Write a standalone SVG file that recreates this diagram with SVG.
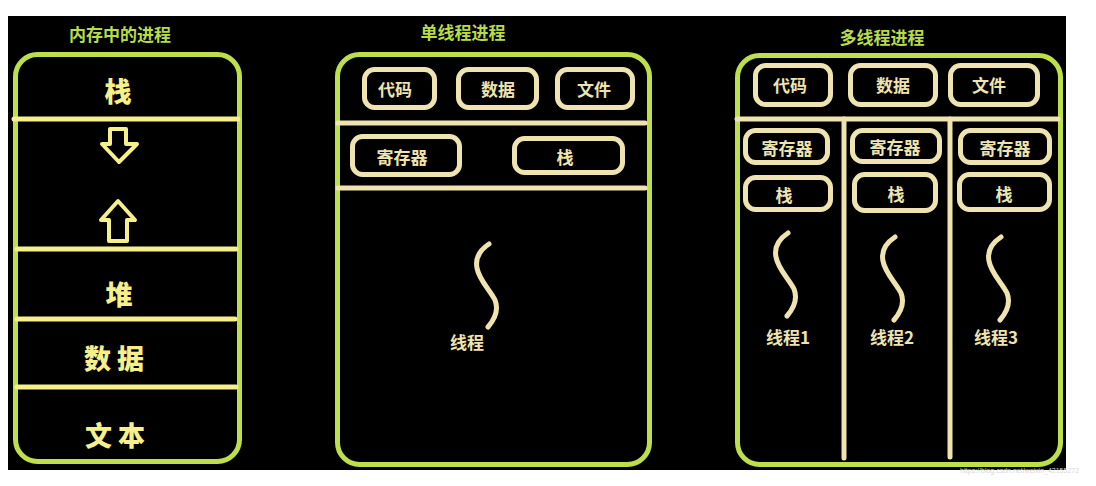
<svg xmlns="http://www.w3.org/2000/svg" xmlns:xlink="http://www.w3.org/1999/xlink" width="1096" height="486" viewBox="0 0 1096 486">
<style>
.frame{fill:none;stroke:#bde04a;stroke-width:5}
.box{fill:none;stroke:#efe4b0;stroke-width:5}
.yl{stroke:#f5f08c;stroke-width:5;stroke-linecap:round}
.bl{stroke:#efe4b0;stroke-width:5;stroke-linecap:round}
.arrow{fill:none;stroke:#f5f08c;stroke-width:4;stroke-linejoin:round}
.thread{fill:none;stroke:#efe4b0;stroke-width:5;stroke-linecap:round}
.title{font-family:"Noto Sans CJK SC","Noto Sans",sans-serif;font-weight:bold;font-size:17px;fill:#b8dc48;text-anchor:middle;dominant-baseline:central}
.big{font-family:"Noto Sans CJK SC","Noto Sans",sans-serif;font-weight:900;font-size:27px;fill:#f5f08c;text-anchor:middle;dominant-baseline:central}
.lbl{font-family:"Noto Sans CJK SC","Noto Sans",sans-serif;font-weight:bold;font-size:17px;fill:#efe4b0;text-anchor:middle;dominant-baseline:central}
.wm{font-family:"Liberation Sans",sans-serif;font-size:7px;fill:#d8d8d8}
</style>
<defs>
<path id="s" d="M489,244 C480,250 475,258 477,268 C479,280 490,290 495,300 C499,310 494,320 488,327"/>
</defs>
<rect x="0" y="0" width="1096" height="486" fill="#ffffff"/>
<rect x="8" y="16" width="1058" height="454" fill="#000000"/>

<g id="memory-process">
<text class="title" x="120" y="33">内存中的进程</text>
<rect class="frame" x="15.5" y="54.5" width="224" height="407" rx="22"/>
<line class="yl" x1="14" y1="119" x2="238" y2="119"/>
<line class="yl" x1="17" y1="249" x2="236" y2="249"/>
<line class="yl" x1="17" y1="319" x2="235" y2="319"/>
<line class="yl" x1="17" y1="387" x2="236" y2="387"/>
<text class="big" x="118" y="90">栈</text>
<path class="arrow" d="M110,129 H126 V144 H137 L119,162 L102,144 H110 Z"/>
<path class="arrow" d="M118,201 L135,220 H127 V241 H109 V220 H101 Z"/>
<text class="big" x="119" y="293">堆</text>
<text class="big" x="114" y="357">数 据</text>
<text class="big" x="115" y="434">文 本</text>
</g>

<g id="single-thread-process">
<text class="title" x="463" y="31">单线程进程</text>
<rect class="frame" x="337.5" y="54.5" width="312" height="410" rx="22"/>
<g id="s-code"><rect class="box" x="364.5" y="69.5" width="70" height="38" rx="10"/><text class="lbl" x="395" y="88">代码</text></g>
<g id="s-data"><rect class="box" x="458.5" y="69.5" width="78" height="38" rx="10"/><text class="lbl" x="498" y="88">数据</text></g>
<g id="s-file"><rect class="box" x="557.5" y="69.5" width="75" height="38" rx="10"/><text class="lbl" x="594" y="88">文件</text></g>
<line class="bl" x1="338" y1="123" x2="645" y2="123"/>
<g id="s-reg"><rect class="box" x="352.5" y="136.5" width="107" height="38" rx="10"/><text class="lbl" x="402" y="156">寄存器</text></g>
<g id="s-stack"><rect class="box" x="514.5" y="138.5" width="108" height="34" rx="10"/><text class="lbl" x="565" y="156">栈</text></g>
<line class="bl" x1="338" y1="188" x2="645" y2="188"/>
<use xlink:href="#s" class="thread"/>
<text class="lbl" x="467" y="341">线程</text>
</g>

<g id="multi-thread-process">
<text class="title" x="882" y="36">多线程进程</text>
<rect class="frame" x="737.5" y="55.5" width="323" height="409" rx="22"/>
<g id="m-code"><rect class="box" x="755.5" y="65.5" width="75" height="39" rx="10"/><text class="lbl" x="790" y="84">代码</text></g>
<g id="m-data"><rect class="box" x="850.5" y="65.5" width="85" height="39" rx="10"/><text class="lbl" x="893" y="84">数据</text></g>
<g id="m-file"><rect class="box" x="950.5" y="65.5" width="87" height="39" rx="10"/><text class="lbl" x="989" y="84">文件</text></g>
<line class="bl" x1="737" y1="119" x2="1058" y2="119"/>
<line class="bl" x1="844" y1="119" x2="844" y2="458"/>
<line class="bl" x1="950" y1="119" x2="950" y2="457"/>
<g id="t1">
<rect class="box" x="745.5" y="130.5" width="82" height="32" rx="10"/><text class="lbl" x="787" y="147">寄存器</text>
<rect class="box" x="745.5" y="177.5" width="85" height="32" rx="10"/><text class="lbl" x="784" y="194">栈</text>
<use xlink:href="#s" class="thread" transform="translate(299,-11)"/>
<text class="lbl" x="788" y="336">线程1</text>
</g>
<g id="t2">
<rect class="box" x="852.5" y="130.5" width="87" height="31" rx="10"/><text class="lbl" x="895" y="146">寄存器</text>
<rect class="box" x="854.5" y="174.5" width="81" height="36" rx="10"/><text class="lbl" x="896" y="193">栈</text>
<use xlink:href="#s" class="thread" transform="translate(406,-7)"/>
<text class="lbl" x="892" y="336">线程2</text>
</g>
<g id="t3">
<rect class="box" x="960.5" y="130.5" width="89" height="32" rx="10"/><text class="lbl" x="1005" y="147">寄存器</text>
<rect class="box" x="959.5" y="174.5" width="90" height="35" rx="10"/><text class="lbl" x="1004" y="193">栈</text>
<use xlink:href="#s" class="thread" transform="translate(512,-7)"/>
<text class="lbl" x="996" y="336">线程3</text>
</g>
</g>
<g id="connectors"/>
<text class="wm" x="960" y="473">https://blog.csdn.net/weixin_42155272</text>
</svg>
